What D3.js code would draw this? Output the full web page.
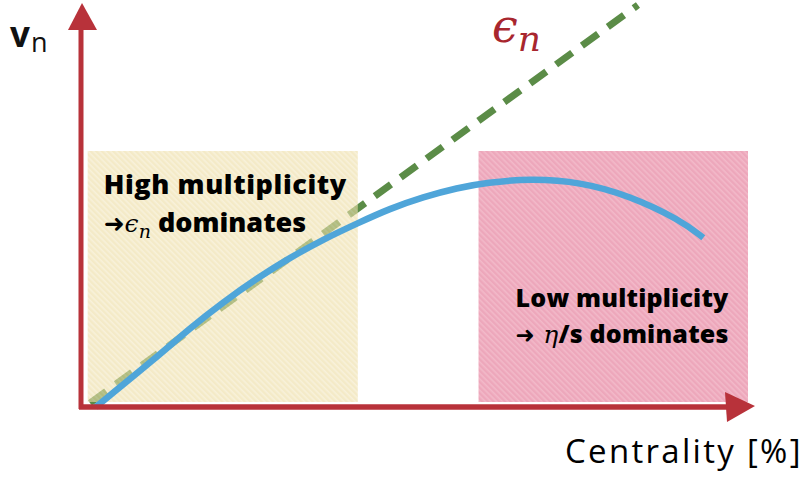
<!DOCTYPE html>
<meta charset="utf-8">
<style>
html, body { margin: 0; overflow: hidden; background: #fff; }
.label { font-family: "Open Sans", Lato, sans-serif; font-weight: 800; fill: #000; }
</style>
<body>
<script src="https://cdn.jsdelivr.net/npm/d3@7"></script>
<script>

var width = 805,
  height = 480;

// blue v_n curve vs centrality
var curveCent = [2.2, 11.4, 16.3, 21.3, 26.4, 31.3, 36.3, 41.4, 46.3, 51.3, 56.4, 60.9, 67.3, 74.8, 82.3, 89.8, 93.3];
var curveVn   = [0, 0.125, 0.197, 0.262, 0.322, 0.373, 0.419, 0.459, 0.496, 0.525, 0.548, 0.561, 0.571, 0.563, 0.528, 0.468, 0.423];

// dashed eccentricity line
var eccCent = [1.35, 83.5];
var eccVn   = [0.01, 1.005];

// shaded regions (centrality ranges)
var regionNames = ["High multiplicity", "Low multiplicity"];
var regionFrom  = [1.0, 59.6];
var regionTo    = [41.5, 100];
var regionVn    = [0.0125, 0.64];

var x = d3.scaleLinear().domain([0, 100]).range([81, 748]);
var y = d3.scaleLinear().domain([0, 1]).range([407, 7]);

var svg = d3.select("body").append("svg")
  .attr("width", width)
  .attr("height", height);

var defs = svg.append("defs");
function hatch(id, base, stripe) {
  var p = defs.append("pattern")
    .attr("id", id)
    .attr("patternUnits", "userSpaceOnUse")
    .attr("width", 4).attr("height", 4)
    .attr("patternTransform", "rotate(45)");
  p.append("rect").attr("width", 4).attr("height", 4).attr("fill", base);
  p.append("rect").attr("width", 4).attr("height", 1.6).attr("fill", stripe);
}
hatch("hatchY", "#ecdca2", "#f3e8c1");
hatch("hatchP", "#eda7bb", "#f2b9c9");

// green dashed line (under the boxes)
var line = d3.line().x(function(d) { return x(d[0]); }).y(function(d) { return y(d[1]); });
svg.append("path")
  .datum(d3.zip(eccCent, eccVn))
  .attr("d", line)
  .attr("fill", "none")
  .attr("stroke", "#5b8c47")
  .attr("stroke-width", 7)
  .attr("stroke-dasharray", "20,12");

// boxes
var fills = ["url(#hatchY)", "url(#hatchP)"];
svg.selectAll(".region")
  .data(regionNames)
  .enter().append("rect")
  .attr("class", "region")
  .attr("x", function(d, i) { return x(regionFrom[i]); })
  .attr("y", y(regionVn[1]))
  .attr("width", function(d, i) { return x(regionTo[i]) - x(regionFrom[i]); })
  .attr("height", y(regionVn[0]) - y(regionVn[1]))
  .attr("fill", function(d, i) { return fills[i]; })
  .attr("opacity", function(d, i) { return i == 0 ? 0.6 : 1; });

// blue curve
svg.append("path")
  .datum(d3.zip(curveCent, curveVn))
  .attr("d", d3.line().x(function(d) { return x(d[0]); }).y(function(d) { return y(d[1]); }).curve(d3.curveBasis))
  .attr("fill", "none")
  .attr("stroke", "#4fa5d9")
  .attr("stroke-width", 6.5);

// axes with arrow heads
var axisCol = "#b8323a";
var x0 = x(0), y0 = y(0);
svg.append("line")
  .attr("x1", x0).attr("y1", y0 + 2)
  .attr("x2", x0).attr("y2", 28)
  .attr("stroke", axisCol).attr("stroke-width", 5);
svg.append("path")
  .attr("d", "M" + (x0 + 1) + ",3L" + (x0 + 16) + ",30L" + (x0 - 13) + ",30Z")
  .attr("fill", axisCol);
svg.append("line")
  .attr("x1", x0 - 2).attr("y1", y0)
  .attr("x2", 728).attr("y2", y0)
  .attr("stroke", axisCol).attr("stroke-width", 5.5);
svg.append("path")
  .attr("d", "M755," + (y0 - 1) + "L725," + (y0 - 15) + "L727," + (y0 + 15) + "Z")
  .attr("fill", axisCol);

// axis titles
var vn = svg.append("text").attr("x", 10).attr("y", 47)
  .attr("font-family", "'Open Sans', sans-serif").attr("font-weight", 700)
  .attr("font-size", 35).attr("fill", "#111");
vn.append("tspan").text("v");
vn.append("tspan").attr("font-size", 27).attr("font-weight", 500).attr("dx", 1).attr("dy", 5).text("n");

svg.append("text")
  .attr("x", 565).attr("y", 463)
  .attr("font-family", "'Open Sans', sans-serif")
  .attr("font-size", 33)
  .attr("letter-spacing", 2.3)
  .attr("fill", "#000")
  .text("Centrality [%]");

var eps = svg.append("text").attr("x", 492).attr("y", 42)
  .attr("font-family", "'DejaVu Serif', serif").attr("font-style", "italic")
  .attr("font-size", 46).attr("fill", "#a8262e");
eps.append("tspan").text("ϵ");
eps.append("tspan").attr("font-size", 36).attr("dy", 9).text("n");

// region annotations
var hx = x(regionFrom[0]) + 16, lx = x(regionFrom[1]) + 37;
svg.append("text").attr("class", "label").attr("x", hx).attr("y", 194)
  .attr("font-size", 27).attr("letter-spacing", 0.6).text(regionNames[0]);
var t1 = svg.append("text").attr("class", "label").attr("x", hx).attr("y", 232)
  .attr("font-size", 27).attr("letter-spacing", 0);
t1.append("tspan").attr("font-family", "'DejaVu Sans', sans-serif").attr("font-size", 25).text("➜");
t1.append("tspan").attr("font-family", "'DejaVu Serif', serif").attr("font-style", "italic").attr("font-weight", 400).attr("font-size", 25).text("ϵ");
t1.append("tspan").attr("font-family", "'DejaVu Serif', serif").attr("font-style", "italic").attr("font-weight", 400).attr("font-size", 19).attr("dy", 6).text("n");
t1.append("tspan").attr("dy", -6).text(" dominates");

svg.append("text").attr("class", "label").attr("x", lx).attr("y", 307)
  .attr("font-size", 25).attr("letter-spacing", 0.2).text(regionNames[1]);
var t2 = svg.append("text").attr("class", "label").attr("x", lx).attr("y", 343)
  .attr("font-size", 25).attr("letter-spacing", 0.2);
t2.append("tspan").attr("font-family", "'DejaVu Sans', sans-serif").attr("font-size", 23).text("➜ ");
t2.append("tspan").attr("font-family", "'DejaVu Serif', serif").attr("font-style", "italic").attr("font-weight", 400).attr("font-size", 25).text("η");
t2.append("tspan").text("/s dominates");

</script>
